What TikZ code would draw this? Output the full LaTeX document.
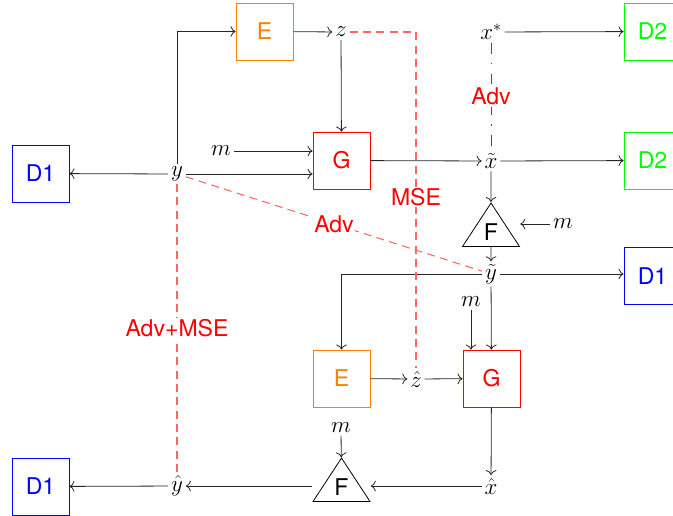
\documentclass[tikz,border=0pt]{standalone}
\usepackage{fontspec}
\setsansfont{TeX Gyre Heros}
\usepackage{tikz}
\usetikzlibrary{shapes.geometric,arrows.meta,positioning,calc}

\begin{document}
\begin{tikzpicture}[
    x=0.75pt, y=-0.75pt,
    font=\LARGE,
    box/.style={rectangle, draw, line width=0.6pt, minimum size=42.75pt, inner sep=0pt, font=\LARGE\sffamily},
    enc/.style={box, draw=orange, text=orange},
    gen/.style={box, draw=red, text=red},
    dis1/.style={box, draw=blue, text=blue},
    dis2/.style={box, draw=green, text=green},
    tri/.style={isosceles triangle, shape border rotate=90, isosceles triangle stretches, draw, line width=0.6pt, minimum width=42.75pt, minimum height=32.6pt, inner sep=0pt, font=\LARGE\sffamily},
    var/.style={inner sep=2pt},
    arrow/.style={-{To[scale=1.3]}, line width=0.6pt, draw=black!85},
    loss/.style={draw=red!60, line width=0.8pt, dash pattern=on 6pt off 4pt},
    lossadv/.style={draw=red, line width=0.7pt, dash pattern=on 8pt off 7pt on 1pt off 7pt},
    losslabel/.style={fill=white, text=red, font=\LARGE\sffamily, inner sep=1pt}
]
    \useasboundingbox (0,0) rectangle (673,515);

    % first pass
    \node [enc] (E1) at (264.5,31.5) {E};
    \node [var] (z) at (341,32) {$z$};
    \node [var] (xs) at (491,32) {$x^*$};
    \node [dis2] (D2a) at (652.5,31.5) {D2};
    \node [dis1] (D1a) at (40.5,173.5) {D1};
    \node [var] (y) at (177,174) {$y$};
    \node [var] (m1) at (221,151) {$m$};
    \node [gen] (G1) at (341.5,160.5) {G};
    \node [var] (xt) at (491,161) {$\tilde{x}$};
    \node [dis2] (D2b) at (652.5,160.5) {D2};
    \node [tri, anchor=apex] (F1) at (491,202) {F};
    \node [var] (m2) at (563,224) {$m$};
    \node [var] (yt) at (491,274) {$\tilde{y}$};
    \node [dis1] (D1b) at (652.5,276) {D1};

    % second pass
    \node [var] (m3) at (471,302) {$m$};
    \node [enc] (E2) at (341.5,378.5) {E};
    \node [var] (zh) at (416,379) {$\hat{z}$};
    \node [gen] (G2) at (491.5,378.5) {G};
    \node [var] (m4) at (341,428) {$m$};
    \node [tri, anchor=apex] (F2) at (341.5,457) {F};
    \node [var] (xh) at (491,486) {$\hat{x}$};
    \node [var] (yh) at (177,486) {$\hat{y}$};
    \node [dis1] (D1c) at (40.5,486.5) {D1};

    \draw [arrow] (y) |- (E1);
    \draw [arrow] (E1) -- (z);
    \draw [arrow] (z) -- (G1);
    \draw [arrow] (m1) -- (m1 -| G1.west);
    \draw [arrow] (y) -- (y -| G1.west);
    \draw [arrow] (y) -- (D1a);
    \draw [arrow] (G1) -- (xt);
    \draw [arrow] (xt) -- (D2b);
    \draw [arrow] (xs) -- (D2a);
    \draw [arrow] (xt) -- (F1);
    \draw [arrow] (m2) -- (m2 -| F1.right corner);
    \draw [arrow] (F1) -- (yt);
    \draw [arrow] (yt) -- (yt -| D1b.west);
    \draw [arrow] (yt) -| (E2);
    \draw [arrow] (yt) -- (G2);
    \draw [arrow] (m3) -- (m3 |- G2.north);
    \draw [arrow] (E2) -- (zh);
    \draw [arrow] (zh) -- (G2);
    \draw [arrow] (G2) -- (xh);
    \draw [arrow] (xh) -- (xh -| F2.right corner);
    \draw [arrow] (m4) -- (F2);
    \draw [arrow] (yh -| F2.left corner) -- (yh);
    \draw [arrow] (yh) -- (D1c);

    % losses
    \draw [lossadv] (xs) -- node [losslabel] {Adv} (xt);
    \draw [loss] (z) -| node [losslabel, pos=0.745] {MSE} (zh);
    \draw [loss] (y) -- node [losslabel] {Adv} (yt);
    \draw [loss] (y) -- node [losslabel] {Adv+MSE} (yh);
\end{tikzpicture}
\end{document}
